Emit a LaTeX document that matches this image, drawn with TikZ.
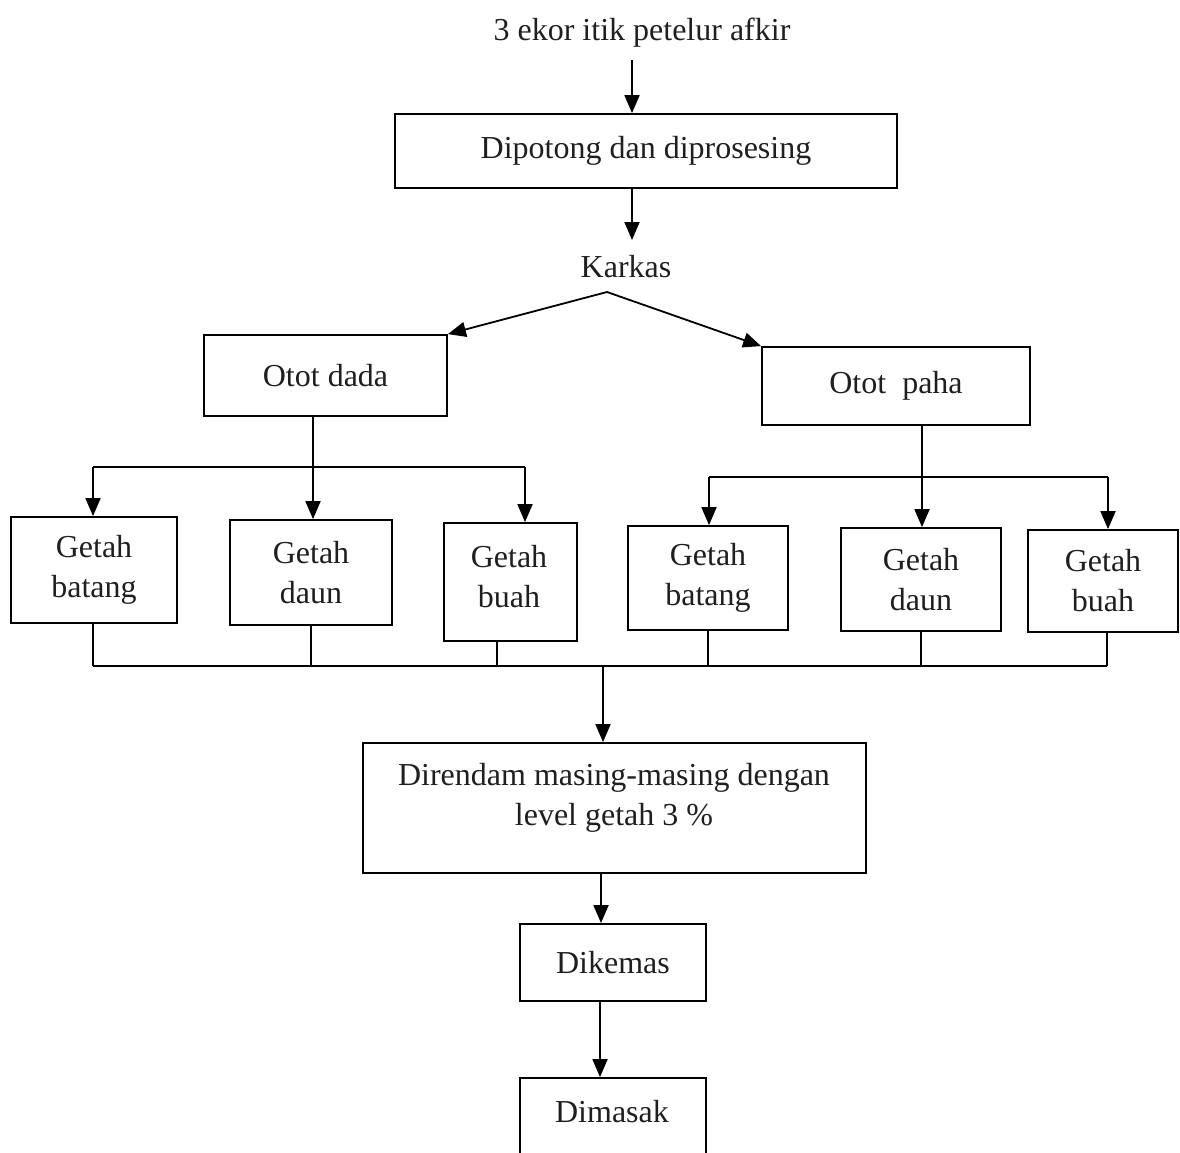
\documentclass[tikz,border=0pt]{standalone}
\usepackage{fontspec}
\setmainfont{Liberation Serif}
\usetikzlibrary{arrows.meta}
\begin{document}
\begin{tikzpicture}[x=1pt,y=-1pt,
  line width=1.8pt,
  every node/.style={font=\fontsize{32}{40}\selectfont, text=black!88},
  box/.style={draw, inner sep=0pt, align=center},
  lbl/.style={inner sep=2pt, align=center},
  arr/.style={-{Triangle[width=15pt,length=18pt]}}]
\useasboundingbox (0,0) rectangle (1180,1153);
\clip (0,0) rectangle (1180,1153);
% top
\node[lbl] (title) at (642,33) {3 ekor itik petelur afkir};
\node[box, minimum width=502pt, minimum height=74pt] (dip) at (646,151) {Dipotong dan diprosesing};
\coordinate (c1) at (632,0);
\draw[arr] (c1 |- 0,60) -- (dip.north -| c1);
\node[lbl] (kark) at (626,267) {Karkas};
\draw[arr] (dip.south -| c1) -- (c1 |- 0,240);
\coordinate (kt) at (607,292);
% otot
\node[box, minimum width=243pt, minimum height=81pt] (od) at (325.5,375.5) {Otot dada};
\node[box, minimum width=268pt, minimum height=78pt] (op) at (896,386) {Otot\hspace{0.5em}paha};
\draw[arr] (kt) -- (od.north east);
\draw[arr] (kt) -- (op.north west);
% getah boxes
\node[box, minimum width=166pt, minimum height=106pt] (gb1) at (94,570) {Getah\\batang};
\node[box, minimum width=162pt, minimum height=105pt] (gd1) at (311,572.5) {Getah\\daun};
\node[box, minimum width=133pt, minimum height=118pt] (gh1) at (510.5,582) {};
\node[lbl] (gh1t) at (509,577) {Getah\\buah};
\node[box, minimum width=160pt, minimum height=104pt] (gb2) at (708,578) {Getah\\batang};
\node[box, minimum width=160pt, minimum height=103pt] (gd2) at (921,579.5) {Getah\\daun};
\node[box, minimum width=150pt, minimum height=102pt] (gh2) at (1103,581) {Getah\\buah};
% left split
\coordinate (lj) at (313,467);
\coordinate (l1) at (93,467);
\coordinate (l3) at (525,467);
\draw (od.south -| lj) -- (lj);
\draw (l1) -- (l3);
\draw[arr] (l1) -- (gb1.north -| l1);
\draw[arr] (lj) -- (gd1.north -| lj);
\draw[arr] (l3) -- (gh1.north -| l3);
% right split
\coordinate (rj) at (922,477);
\coordinate (r1) at (709,477);
\coordinate (r3) at (1108,477);
\draw (op.south -| rj) -- (rj);
\draw (r1) -- (r3);
\draw[arr] (r1) -- (gb2.north -| r1);
\draw[arr] (rj) -- (gd2.north -| rj);
\draw[arr] (r3) -- (gh2.north -| r3);
% merge
\coordinate (m1) at (93,666);
\coordinate (m2) at (311,666);
\coordinate (m3) at (497,666);
\coordinate (m4) at (708,666);
\coordinate (m5) at (921,666);
\coordinate (m6) at (1107,666);
\coordinate (mj) at (603,666);
\draw (gb1.south -| m1) -- (m1);
\draw (gd1.south -| m2) -- (m2);
\draw (gh1.south -| m3) -- (m3);
\draw (gb2.south -| m4) -- (m4);
\draw (gd2.south -| m5) -- (m5);
\draw (gh2.south -| m6) -- (m6);
\draw (m1) -- (m6);
% lower chain
\node[box, minimum width=503pt, minimum height=130pt] (dir) at (614.5,808) {};
\node[lbl] (dirt) at (614,798) {Direndam masing-masing dengan\\level getah 3 \%};
\draw[arr] (mj) -- (dir.north -| mj);
\node[box, minimum width=186pt, minimum height=77pt] (dik) at (613,962.5) {Dikemas};
\coordinate (c2) at (601,0);
\draw[arr] (dir.south -| c2) -- (dik.north -| c2);
\node[box, minimum width=186pt, minimum height=110pt] (dim) at (613,1133) {};
\node[lbl] (dimt) at (612,1112) {Dimasak};
\coordinate (c3) at (600,0);
\draw[arr] (dik.south -| c3) -- (dim.north -| c3);
\end{tikzpicture}
\end{document}
